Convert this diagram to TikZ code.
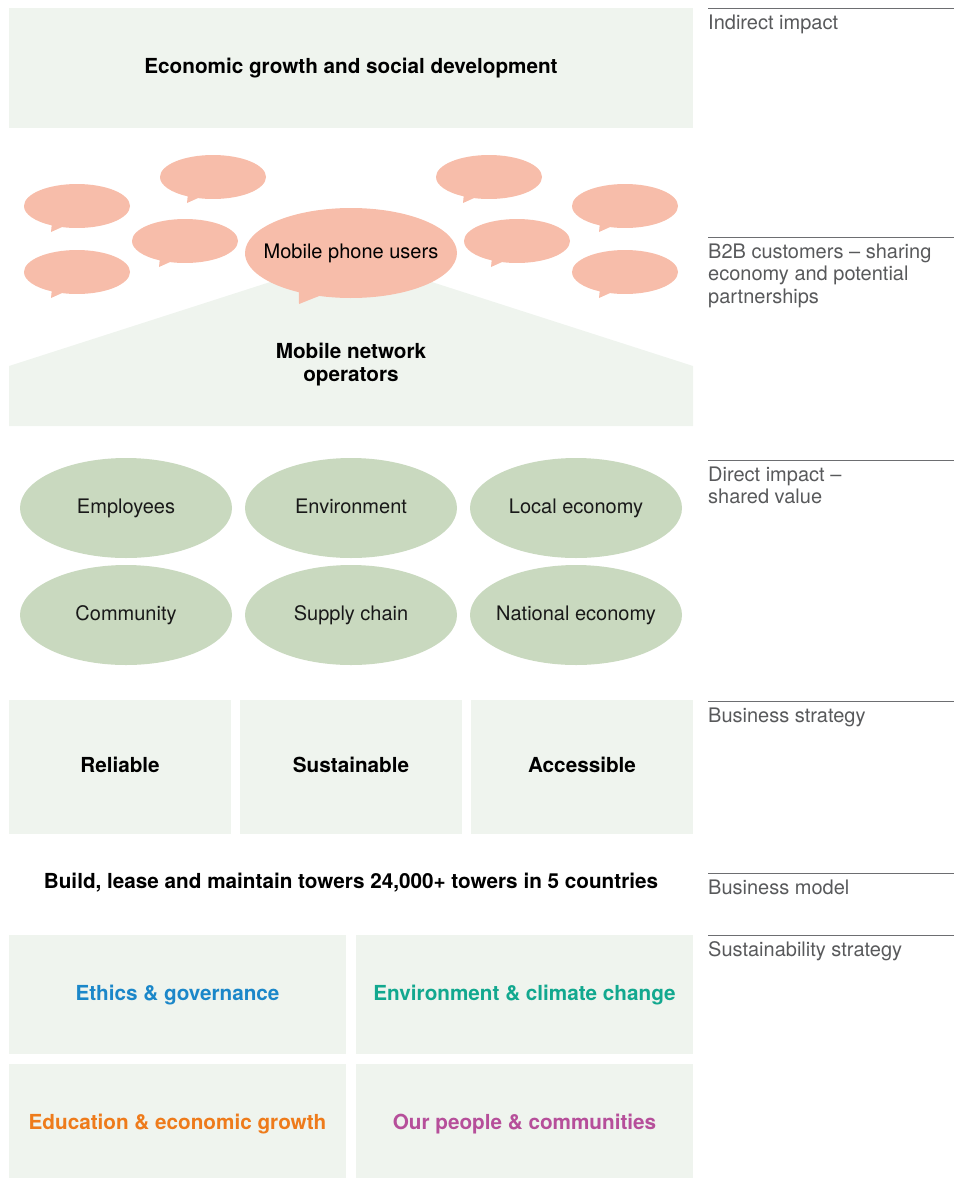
\documentclass[tikz,border=0pt]{standalone}
\usepackage{fontspec}
\setmainfont{TeX Gyre Heros}
\usetikzlibrary{positioning,shapes.geometric,shapes.callouts}

\definecolor{panel}{HTML}{EFF4EE}
\definecolor{salmon}{HTML}{F7BDAA}
\definecolor{sage}{HTML}{C9D9BF}
\definecolor{rulegray}{HTML}{6D6E71}
\definecolor{labelgray}{HTML}{58595B}
\definecolor{ethicsblue}{HTML}{1B87C9}
\definecolor{envteal}{HTML}{12A88F}
\definecolor{eduorange}{HTML}{EE7B1B}
\definecolor{peoplepink}{HTML}{B64F9A}

\begin{document}
\begin{tikzpicture}[x=1pt,y=-1pt,inner sep=0pt,font=\fontsize{20}{22.5}\selectfont]
  \tikzstyle{panelbox}=[fill=panel,font=\fontsize{20.7}{23}\selectfont\bfseries,text height=15pt,text depth=4pt]
  \tikzstyle{chat}=[ellipse callout,fill=salmon,minimum width=106pt,minimum height=44pt,callout pointer arc=12]
  \tikzstyle{impact}=[ellipse,fill=sage,minimum width=212pt,minimum height=100pt,inner xsep=-14pt,text=black!90,text height=14pt,text depth=4pt]
  \tikzstyle{sidenote}=[anchor=north west,align=left,text=labelgray]

  \useasboundingbox (0,0) rectangle (962,1178);

  \node[panelbox,minimum width=684pt,minimum height=120pt] (growth) at (351,67.5) {Economic growth and social development};

  \fill[panel] (9,426) -- (9,366) -- (351,256) -- (693,366) -- (693,426) -- cycle;
  \node[font=\fontsize{20.7}{23}\selectfont\bfseries,align=center] (mno) at (351,365) {Mobile network\\operators};

  \foreach \bx/\by [count=\i] in {77/206,77/272,213/177,185/241,489/177,517/241,625/206,625/272}
    \node[chat,callout absolute pointer={(\bx-26,\by+26)}] (chat\i) at (\bx,\by) {};
  \node[chat,minimum width=212pt,minimum height=90pt,inner xsep=-30pt,callout absolute pointer={(299,304)}] (users) at (351,253) {Mobile phone users};

  \node[impact] (employees) at (126,508) {Employees};
  \node[impact,node distance=225pt] (environment) [right of=employees] {Environment};
  \node[impact,node distance=225pt] (local) [right of=environment] {Local economy};
  \node[impact,node distance=107pt] (community) [below of=employees] {Community};
  \node[impact,node distance=107pt] (supply) [below of=environment] {Supply chain};
  \node[impact,node distance=107pt] (national) [below of=local] {National economy};

  \node[panelbox,minimum width=222pt,minimum height=134pt] (reliable) at (120,767) {Reliable};
  \node[panelbox,minimum width=222pt,minimum height=134pt,node distance=231pt] (sustainable) [right of=reliable] {Sustainable};
  \node[panelbox,minimum width=222pt,minimum height=134pt,node distance=231pt] (accessible) [right of=sustainable] {Accessible};

  \node[font=\fontsize{20.7}{23}\selectfont\bfseries] (model) at (351,883) {Build, lease and maintain towers 24,000+ towers in 5 countries};

  \node[panelbox,minimum width=337pt,minimum height=119pt,text=ethicsblue] (ethics) at (177.5,994.5) {Ethics \& governance};
  \node[panelbox,minimum width=337pt,minimum height=119pt,text=envteal,node distance=347pt] (climate) [right of=ethics] {Environment \& climate change};
  \node[panelbox,minimum width=337pt,minimum height=120pt,text=eduorange] (education) at (177.5,1124) {Education \& economic growth};
  \node[panelbox,minimum width=337pt,minimum height=120pt,text=peoplepink,node distance=347pt] (people) [right of=education] {Our people \& communities};

  \foreach \ly/\txt [count=\i] in {8/Indirect impact,237/{B2B customers -- sharing\\economy and potential\\partnerships},460/{Direct impact --\\shared value},701/Business strategy,873/Business model,935/Sustainability strategy} {
    \draw[rulegray,line width=1pt] (708,\ly) -- (954,\ly);
    \node[sidenote] (note\i) at (708,\ly+6.5) {\txt};
  }
\end{tikzpicture}
\end{document}
